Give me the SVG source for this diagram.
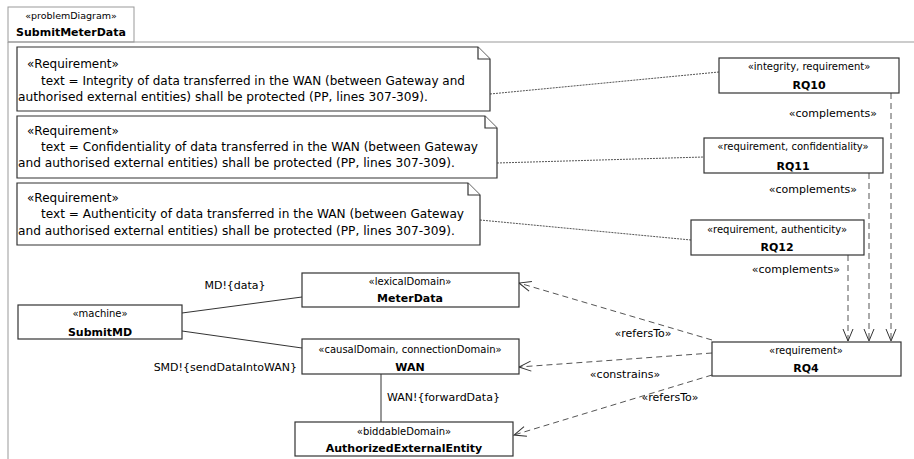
<svg xmlns="http://www.w3.org/2000/svg" width="914" height="459" viewBox="0 0 914 459">
<defs>
<style>
text{font-family:"DejaVu Sans",Verdana,sans-serif;fill:#000}
.st{font-size:10px;text-anchor:middle}
.nm{font-size:11px;font-weight:bold;text-anchor:middle}
.nt{font-size:12px}
.lb{font-size:11px}
.box{fill:#fff;stroke:#333;stroke-width:1.2}
.note{fill:#fff;stroke:#333;stroke-width:1.2}
.frame{fill:none;stroke:#999;stroke-width:1}
.solid{fill:none;stroke:#333;stroke-width:1}
.fine{fill:none;stroke:#555;stroke-width:1;stroke-dasharray:2 1}
.dash{fill:none;stroke:#555;stroke-width:1;stroke-dasharray:6 4}
</style>
<marker id="open" markerWidth="14" markerHeight="12" refX="13" refY="6" orient="auto" markerUnits="userSpaceOnUse">
<path d="M1,1 L13,6 L1,11" fill="none" stroke="#333" stroke-width="1"/>
</marker>
</defs>
<rect width="914" height="459" fill="#fff"/>
<g id="frame">
<path class="frame" d="M8,459 V42 H914"/>
<rect class="frame" x="8" y="7" width="126" height="35" fill="#fff"/>
<text class="st" x="71" y="19" style="font-size:9.5px">«problemDiagram»</text>
<text class="nm" x="71" y="36">SubmitMeterData</text>
</g>
<g id="connectors">
<line class="fine" x1="490" y1="94" x2="719" y2="72"/>
<line class="fine" x1="497" y1="163" x2="704" y2="157"/>
<line class="fine" x1="480" y1="220" x2="691" y2="240"/>
<line class="dash" x1="891" y1="93" x2="891" y2="341" marker-end="url(#open)"/>
<line class="dash" x1="869" y1="173" x2="869" y2="341" marker-end="url(#open)"/>
<line class="dash" x1="848" y1="255" x2="848" y2="341" marker-end="url(#open)"/>
<text class="lb" x="877" y="117" text-anchor="end">«complements»</text>
<text class="lb" x="857" y="193" text-anchor="end">«complements»</text>
<text class="lb" x="840" y="273" text-anchor="end">«complements»</text>
<line class="solid" x1="182" y1="313" x2="302" y2="297"/>
<line class="solid" x1="182" y1="331" x2="302" y2="348"/>
<line class="solid" x1="381" y1="374" x2="381" y2="422"/>
<text class="lb" x="235" y="289" text-anchor="middle">MD!{data}</text>
<text class="lb" x="297" y="371" text-anchor="end">SMD!{sendDataIntoWAN}</text>
<text class="lb" x="387" y="401">WAN!{forwardData}</text>
<line class="dash" x1="712" y1="340" x2="519" y2="283" marker-end="url(#open)"/>
<line class="dash" x1="712" y1="353" x2="519" y2="367" marker-end="url(#open)"/>
<line class="dash" x1="712" y1="375" x2="514" y2="435" marker-end="url(#open)"/>
<text class="lb" x="643" y="337" text-anchor="middle">«refersTo»</text>
<text class="lb" x="625" y="378" text-anchor="middle">«constrains»</text>
<text class="lb" x="670" y="401" text-anchor="middle">«refersTo»</text>
</g>
<g id="note1">
<path class="note" d="M17,47 H478 L490,59 V111 H17 Z"/>
<path class="note" d="M478,47 V59 H490" fill="none"/>
<text class="nt" x="27" y="68">«Requirement»</text>
<text class="nt" x="41" y="85" textLength="424" lengthAdjust="spacingAndGlyphs">text = Integrity of data transferred in the WAN (between Gateway and</text>
<text class="nt" x="18" y="101" textLength="410" lengthAdjust="spacingAndGlyphs">authorised external entities) shall be protected (PP, lines 307-309).</text>
</g>
<g id="note2">
<path class="note" d="M17,116 H485 L497,128 V178 H17 Z"/>
<path class="note" d="M485,116 V128 H497" fill="none"/>
<text class="nt" x="27" y="135">«Requirement»</text>
<text class="nt" x="41" y="151" textLength="437" lengthAdjust="spacingAndGlyphs">text = Confidentiality of data transferred in the WAN (between Gateway</text>
<text class="nt" x="18" y="167" textLength="437" lengthAdjust="spacingAndGlyphs">and authorised external entities) shall be protected (PP, lines 307-309).</text>
</g>
<g id="note3">
<path class="note" d="M17,183 H468 L480,195 V245 H17 Z"/>
<path class="note" d="M468,183 V195 H480" fill="none"/>
<text class="nt" x="27" y="202">«Requirement»</text>
<text class="nt" x="41" y="218" textLength="423" lengthAdjust="spacingAndGlyphs">text = Authenticity of data transferred in the WAN (between Gateway</text>
<text class="nt" x="18" y="235" textLength="437" lengthAdjust="spacingAndGlyphs">and authorised external entities) shall be protected (PP, lines 307-309).</text>
</g>
<g id="RQ10">
<rect class="box" x="719" y="58" width="180" height="35"/>
<text class="st" x="809" y="70">«integrity, requirement»</text>
<text class="nm" x="809" y="89">RQ10</text>
</g>
<g id="RQ11">
<rect class="box" x="704" y="138" width="179" height="35"/>
<text class="st" x="793" y="150">«requirement, confidentiality»</text>
<text class="nm" x="793" y="170">RQ11</text>
</g>
<g id="RQ12">
<rect class="box" x="691" y="220" width="173" height="35"/>
<text class="st" x="777" y="233">«requirement, authenticity»</text>
<text class="nm" x="777" y="251">RQ12</text>
</g>
<g id="RQ4">
<rect class="box" x="712" y="342" width="189" height="34"/>
<text class="st" x="806" y="354">«requirement»</text>
<text class="nm" x="806" y="372">RQ4</text>
</g>
<g id="MeterData">
<rect class="box" x="302" y="273" width="217" height="34"/>
<text class="st" x="410" y="285">«lexicalDomain»</text>
<text class="nm" x="410" y="302">MeterData</text>
</g>
<g id="WAN">
<rect class="box" x="302" y="339" width="217" height="35"/>
<text class="st" x="410" y="353">«causalDomain, connectionDomain»</text>
<text class="nm" x="410" y="371">WAN</text>
</g>
<g id="SubmitMD">
<rect class="box" x="18" y="305" width="164" height="34"/>
<text class="st" x="100" y="317">«machine»</text>
<text class="nm" x="100" y="336">SubmitMD</text>
</g>
<g id="AuthorizedExternalEntity">
<rect class="box" x="295" y="422" width="218" height="34"/>
<text class="st" x="404" y="435">«biddableDomain»</text>
<text class="nm" x="404" y="452">AuthorizedExternalEntity</text>
</g>
</svg>
